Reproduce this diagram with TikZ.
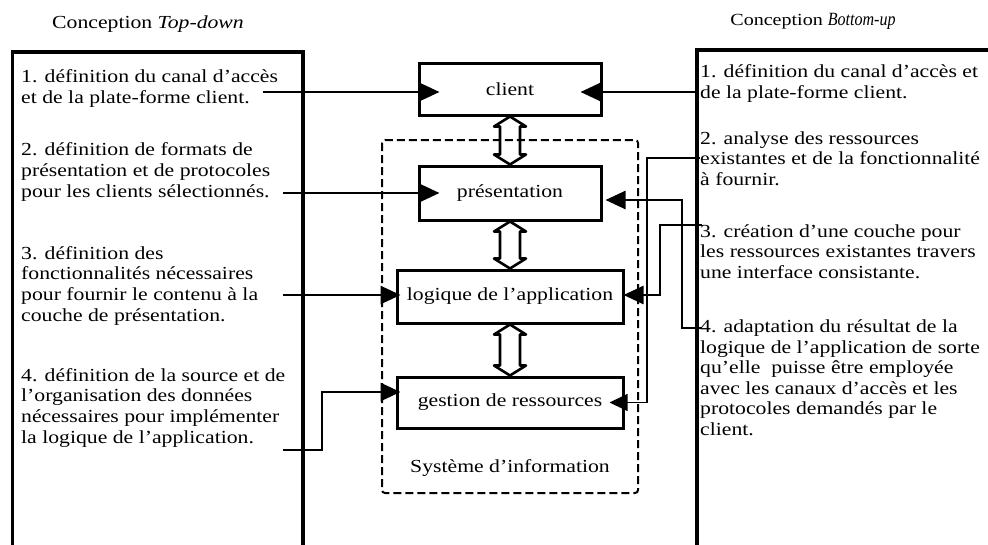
\documentclass[tikz,border=0pt]{standalone}
\usepackage{fontspec}
\setmainfont{Liberation Serif}[FakeStretch=1.18]
\usetikzlibrary{arrows.meta,calc}

\tikzset{
  body/.style={font=\fontsize{18.4}{20.6}\selectfont, inner sep=0pt, align=left, anchor=base west},
  layer/.style={draw, line width=3pt, font=\fontsize{18.4}{20.3}\selectfont, inner sep=0pt},
  frame/.style={line width=3.5pt},
  link/.style={line width=2.6pt, -{Triangle[length=20pt,width=18pt]}},
  thinlink/.style={line width=1.5pt, -{Triangle[length=18pt,width=17pt]}},
  twoway/.style={line width=2.6pt, line join=round},
  sysbox/.style={line width=2pt, dash pattern=on 8pt off 4pt, rounded corners=3pt},
}

% hollow double-headed arrow between two stacked layers
\newcommand\twowayarrow[2]{%
  \draw[twoway] (#1.south) -- ++(16,10) -- ++(-6,0) -- ($(#2.north)+(10,-10)$)
    -- ++(6,0) -- (#2.north) -- ++(-16,-10) -- ++(6,0) -- ($(#1.south)+(-10,10)$)
    -- ++(-6,0) -- cycle;}

\begin{document}
\begin{tikzpicture}[x=1pt,y=-1pt]
\fill[white] (0,0) rectangle (988,544);
\useasboundingbox (0,0) rectangle (988,544);
\clip (0,0) rectangle (988,544);

% headings
\node[font=\fontsize{18.4}{20.3}\selectfont, anchor=base, inner sep=0pt] (tdtitle) at (148,28) {Conception \textit{Top-down}};
\node[font=\fontsize{17}{20}\selectfont, anchor=base, inner sep=0pt] (butitle) at (813,25) {Conception \scalebox{0.8}[1.1]{\textit{Bottom-up}}};

% outer frames
\draw[frame] (12.5,560) -- (12.5,52) -- (303,52) -- (303,560);
\draw[frame] (697,560) -- (697,50) -- (1000,50);

% information system
\draw[sysbox] (382,140) rectangle (638,493);
\node[font=\fontsize{18.4}{20.3}\selectfont, anchor=base, inner sep=0pt] (sys) at (510,472) {Système d’information};

\node[layer, minimum width=182pt, minimum height=52pt] (client) at (510,89) {client};
\node[layer, minimum width=182pt, minimum height=54pt] (pres) at (510,193) {présentation};
\node[layer, minimum width=226pt, minimum height=53pt] (logic) at (510,296.5) {logique de l’application};
\node[layer, minimum width=226pt, minimum height=51pt] (res) at (510,402.5) {gestion de ressources};

\twowayarrow{client}{pres}
\twowayarrow{pres}{logic}
\twowayarrow{logic}{res}

% top-down steps (placed by the baseline of their last line)
\node[body] (td1) at (21,103) {1. définition du canal d’accès\\et de la plate-forme client.};
\node[body] (td2) at (21,197) {2. définition de formats de\\présentation et de protocoles\\pour les clients sélectionnés.};
\node[body] (td3) at (21,321) {3. définition des\\fonctionnalités nécessaires\\pour fournir le contenu à la\\couche de présentation.};
\node[body] (td4) at (21,443) {4. définition de la source et de\\l’organisation des données\\nécessaires pour implémenter\\la logique de l’application.};

% bottom-up steps
\node[body] (bu1) at (700,98.5) {1. définition du canal d’accès et\\de la plate-forme client.};
\node[body] (bu2) at (700,185.5) {2. analyse des ressources\\existantes et de la fonctionnalité\\à fournir.};
\node[body] (bu3) at (700,278.5) {3. création d’une couche pour\\les ressources existantes travers\\une interface consistante.};
\node[body] (bu4) at (700,435.5) {4. adaptation du résultat de la\\logique de l’application de sorte\\qu’elle\ \ puisse être employée\\avec les canaux d’accès et les\\protocoles demandés par le\\client.};

% free ends of the connectors
\coordinate (a1) at (263,92);
\coordinate (a2) at (283,193);
\coordinate (a3) at (283,295);
\coordinate (a4) at (283,450);
\coordinate (b1) at (697,92);
\coordinate (b2) at (700,158);
\coordinate (b3) at (702,225);
\coordinate (b4) at (702,328);

% top-down connectors
\draw[link] (a1) -- ([xshift=22pt]client.west |- a1);
\draw[link] (a2) -- ([xshift=22pt]pres.west |- a2);
\draw[link] (a3) -- ([xshift=5pt]logic.west |- a3);
\draw[link] (a4) -- (322,450) |- ([xshift=5pt,yshift=10.5pt]res.west);

% bottom-up connectors
\draw[link] (b1) -- ([xshift=-22pt]client.east |- b1);
\draw[thinlink] (b2) -- (647,158) |- ([xshift=-15pt]res.east);
\draw[link] (b3) -- (660,225) |- ([xshift=-1pt,yshift=1.5pt]logic.east);
\draw[link] (b4) -- (682,328) |- ([xshift=3pt,yshift=-7pt]pres.east);
\end{tikzpicture}
\end{document}
